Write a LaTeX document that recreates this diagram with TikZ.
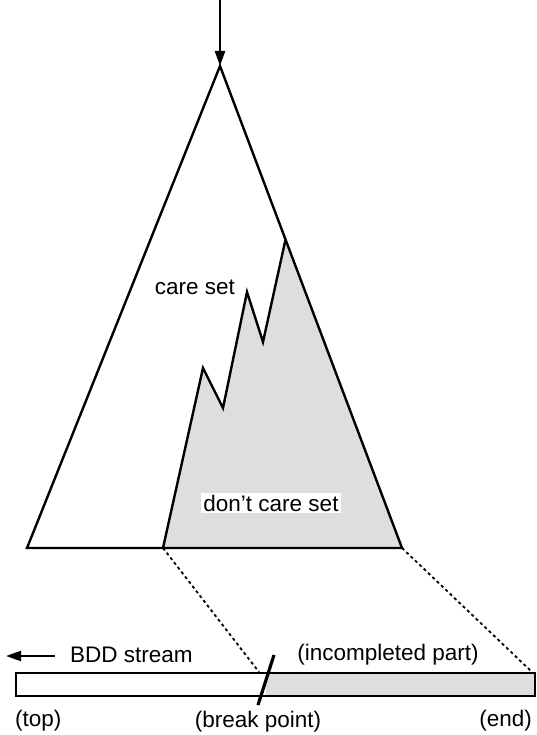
\documentclass[tikz,border=0pt]{standalone}
\usepackage{fontspec}
\setmainfont{Liberation Sans}
\usetikzlibrary{arrows.meta,calc}
\definecolor{dcgray}{gray}{0.87}
\begin{document}
\begin{tikzpicture}[x=1pt,y=-1pt, line join=miter,
  lbl/.style={font=\fontsize{22.5}{24}\selectfont, inner sep=1pt},
  edge/.style={line width=2.4pt},
  dots/.style={line width=1.8pt, dash pattern=on 3pt off 3pt},
  tip/.style={-{Triangle[length=15pt,width=10pt]}}]
\useasboundingbox (0,0) rectangle (537,735);
\coordinate (apex) at (220,66);
\coordinate (bl) at (27,548);
\coordinate (br) at (402,548);
\coordinate (g0) at (163,548);
\coordinate (p1) at (203,368);
\coordinate (v1) at (223,408);
\coordinate (p2) at (247,292);
\coordinate (v2) at (263,342);
\coordinate (p3) at ($(apex)!0.36!(br)$);
\coordinate (top) at (220,0);
\fill[dcgray] (g0) -- (p1) -- (v1) -- (p2) -- (v2) -- (p3) -- (br) -- cycle;
\draw[edge] (apex) -- (bl) -- (br) -- cycle;
\draw[edge] (g0) -- (p1) -- (v1) -- (p2) -- (v2) -- (p3);
\draw[edge, tip] (top) -- (apex);
\node[lbl] (care) at (195,287) {care set};
\node[lbl, fill=white, inner sep=2pt] (dcare) at (271,503) {don’t care set};
% bar
\coordinate (barL) at (16,673);
\coordinate (barM) at (266,696);
\coordinate (barMt) at (266,673);
\coordinate (barR) at (535,696);
\fill[white] (barL) rectangle (barM);
\fill[dcgray] (barMt) rectangle (barR);
\draw[line width=2pt] (barL) rectangle (barR);
\coordinate (s1) at (258,705);
\coordinate (s2) at (274,655);
\draw[line width=3.2pt] (s1) -- (s2);
\coordinate (d1) at (259,672);
\coordinate (d2) at (532,672);
\draw[dots] (g0) -- (d1);
\draw[dots] (br) -- (d2);
\coordinate (a1) at (55,656);
\coordinate (a2) at (6,656);
\draw[edge, tip] (a1) -- (a2);
\node[lbl, anchor=west] (bdd) at (69,655) {BDD stream};
\node[lbl] (inc) at (388,655) {(incompleted part)};
\node[lbl, anchor=west] (topl) at (14,721) {(top)};
\node[lbl] (brk) at (258,722) {(break point)};
\node[lbl, anchor=east] (endl) at (533,721) {(end)};
\end{tikzpicture}
\end{document}
